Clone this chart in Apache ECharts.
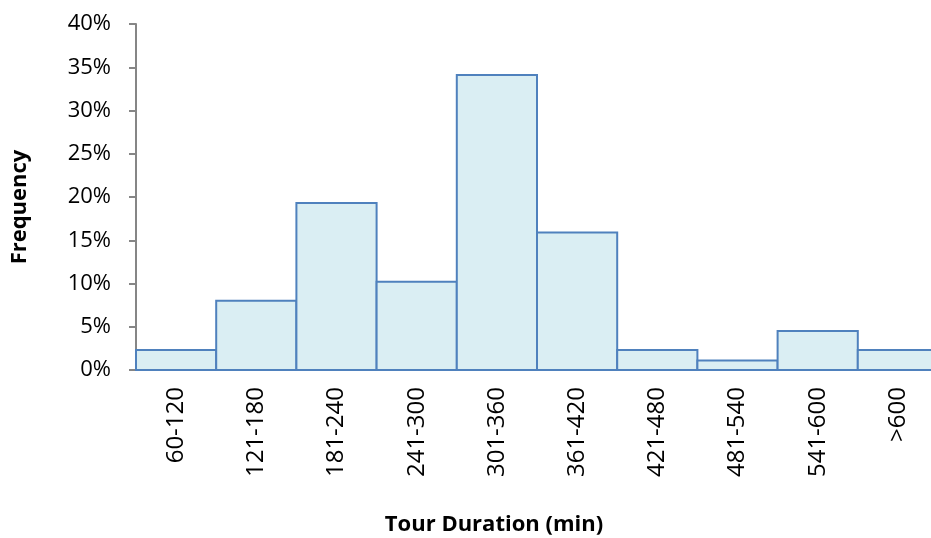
<!DOCTYPE html>
<html>
<head>
<meta charset="utf-8">
<script src="https://cdn.jsdelivr.net/npm/echarts@6/dist/echarts.min.js"></script>
<style>html,body{margin:0;padding:0;background:#fff;overflow:hidden;width:931px;height:538px}#c{width:938px;height:538px}</style>
</head>
<body>
<div id="c"></div>
<script>
var categories = ['60-120','121-180','181-240','241-300','301-360','361-420','421-480','481-540','541-600','>600'];
var frequency = [2.3, 8.0, 19.3, 10.2, 34.1, 15.9, 2.3, 1.1, 4.5, 2.3];
var yTicks = [0, 5, 10, 15, 20, 25, 30, 35, 40];

var chart = echarts.init(document.getElementById('c'), null, {renderer: 'canvas'});
chart.setOption({
  animation: false,
  backgroundColor: '#fff',
  grid: {left: 136, top: 24, bottom: 168, right: 0, containLabel: false},
  xAxis: {
    type: 'category',
    data: categories,
    axisLine: {show: true, lineStyle: {color: '#868686', width: 2}},
    axisTick: {show: false},
    axisLabel: {rotate: 90, margin: 17, color: '#000', fontFamily: 'Open Sans', fontSize: 24}
  },
  yAxis: {
    type: 'value',
    min: yTicks[0],
    max: yTicks[yTicks.length - 1],
    interval: 5,
    axisLine: {show: true, lineStyle: {color: '#868686', width: 2}},
    axisTick: {show: true, length: 7, lineStyle: {color: '#868686', width: 2}},
    splitLine: {show: false},
    axisLabel: {margin: 25, color: '#000', fontFamily: 'Open Sans', fontSize: 22, formatter: '{value}%'}
  },
  graphic: [{
    type: 'text',
    x: 20,
    y: 207,
    rotation: Math.PI / 2,
    style: {text: 'Frequency', fill: '#000', font: 'bold 22px "Open Sans"', textAlign: 'center', textVerticalAlign: 'middle'}
  }, {
    type: 'text',
    x: 494,
    y: 525,
    style: {text: 'Tour Duration (min)', fill: '#000', font: 'bold 22px "Open Sans"', textAlign: 'center', textVerticalAlign: 'middle'}
  }],
  series: [{
    type: 'custom',
    data: frequency.map(function (v, i) { return [i, v]; }),
    encode: {x: 0, y: 1},
    renderItem: function (params, api) {
      var base = api.coord([api.value(0), 0]);
      var top = api.coord([api.value(0), api.value(1)]);
      var w = api.size([1, 0])[0];
      return {
        type: 'rect',
        shape: {x: base[0] - w / 2, y: top[1], width: w, height: base[1] - top[1]},
        style: {fill: '#DAEEF3', stroke: '#4F81BD', lineWidth: 2}
      };
    }
  }]
});
</script>
</body>
</html>
